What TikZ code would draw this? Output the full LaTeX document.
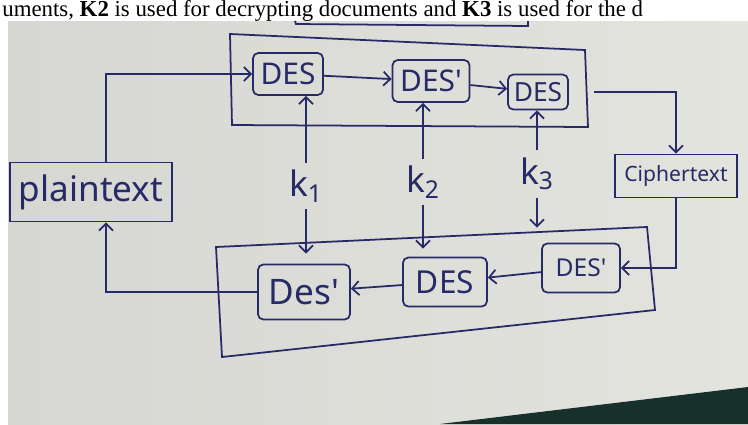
\documentclass[tikz,border=0pt]{standalone}
\usepackage{xcolor}
\usepackage{fontspec}
\setmainfont{Liberation Serif}
\newfontfamily\penfont{Noto Sans}
\usetikzlibrary{arrows.meta, positioning}

\definecolor{ink}{HTML}{262A66}
\definecolor{paper}{HTML}{E4E4DF}
\definecolor{paperdark}{HTML}{D6D6D2}
\definecolor{desk}{HTML}{17302C}

\begin{document}
\begin{tikzpicture}[
        x=0.02cm, y=-0.02cm,
        >={Straight Barb[length=4pt,width=8pt]},
        % pen strokes
        pen/.style={draw=ink, line width=1pt},
        % cipher blocks
        block/.style={
            rectangle,
            draw=ink,
            line width=1pt,
            rounded corners=3pt,
            inner sep=1pt,
            text=ink,
            font=\penfont
        },
        % key labels
        keytext/.style={text=ink, font=\penfont\fontsize{20}{20}\selectfont, inner sep=4pt},
        % arrows
        line/.style={->, draw=ink, line width=1pt}
    ]

    \clip (0,0) rectangle (748,424);

    % --- PAGE ---
    \fill[white] (0,0) rectangle (748,424);
    \node[anchor=base west, inner sep=0pt, font=\fontsize{13}{13}\selectfont] (caption) at (2,16)
        {uments, \textbf{K2} is used for decrypting documents and \textbf{K3} is used for the d};
    \shade[left color=paperdark, right color=paper] (8,21) rectangle (748,424);
    \fill[desk] (440,424) -- (748,387) -- (748,424) -- cycle;
    \draw[pen] (295,21) -- (296,24) -- (528,26) -- (528,21);

    % --- ENCRYPTION ---
    \draw[pen] (230,34) -- (585,50) -- (588,127) -- (232,125) -- cycle;
    \node[block, minimum width=1.4cm, minimum height=0.84cm, font=\penfont\fontsize{17}{17}\selectfont] (desA) at (288,74) {DES};
    \node[block, minimum width=1.54cm, minimum height=0.84cm, font=\penfont\fontsize{17}{17}\selectfont] (desB) at (431,81) {DES'};
    \node[block, minimum width=1.2cm, minimum height=0.7cm, font=\penfont\fontsize{15}{15}\selectfont] (desC) at (538,92) {DES};

    % --- DECRYPTION ---
    \draw[pen] (216,247) -- (647,227) -- (655,310) -- (222,357) -- cycle;
    \node[block, minimum width=1.56cm, minimum height=0.98cm, font=\penfont\fontsize{14}{14}\selectfont] (dbA) at (581,268) {DES'};
    \node[block, minimum width=1.68cm, minimum height=0.98cm, font=\penfont\fontsize{18}{18}\selectfont] (dbB) at (445,282) {DES};
    \node[block, minimum width=1.84cm, minimum height=1.1cm, font=\penfont\fontsize{20}{20}\selectfont] (dbC) at (304,292) {Des'};

    % --- TEXTS ---
    \node[block, rounded corners=0pt, minimum width=3.24cm, minimum height=1.18cm, font=\penfont\fontsize{20}{20}\selectfont] (plain) at (91,192) {plaintext};
    \node[block, rounded corners=0pt, minimum width=2.44cm, minimum height=0.86cm, font=\penfont\fontsize{12}{12}\selectfont] (cipher) at (676,176) {Ciphertext};

    % --- KEYS ---
    \node[keytext] (k1) at (306,186) {k\textsubscript{1}};
    \node[keytext] (k2) at (423,182) {k\textsubscript{2}};
    \node[keytext] (k3) at (537,174) {k\textsubscript{3}};

    % --- CONNECTIONS ---
    \draw[line] ([xshift=0.3cm]plain.north) |- (desA.west);
    \draw[line] (desA) -- (desB);
    \draw[line] (desB) -- (desC);
    \draw[line, shorten <=0.5cm] (desC.east) -| (cipher.north);
    \draw[line] (cipher.south) |- (dbA.east);
    \draw[line] (dbA) -- (dbB);
    \draw[line] (dbB) -- (dbC);
    \draw[line] (dbC.west) -| ([xshift=0.3cm]plain.south);

    \draw[line] (k1) -- (k1 |- desA.south);
    \draw[line] (k2) -- (k2 |- desB.south);
    \draw[line] (k3) -- (k3 |- desC.south);
    \draw[line, shorten >=0.2cm] (k1) -- (k1 |- dbC.north);
    \draw[line, shorten >=0.16cm] (k2) -- (k2 |- dbB.north);
    \draw[line, shorten >=0.3cm] (k3) -- (k3 |- dbA.north);

\end{tikzpicture}
\end{document}
